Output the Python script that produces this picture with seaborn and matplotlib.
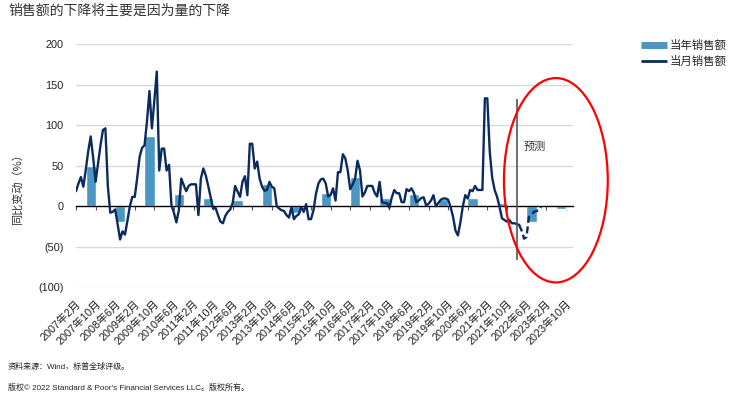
import numpy as np
import pandas as pd
import matplotlib
matplotlib.use("Agg")
import matplotlib.pyplot as plt
import seaborn as sns
from matplotlib.patches import Ellipse
from matplotlib.lines import Line2D
from matplotlib.ticker import FuncFormatter

# ---------------- data ----------------
# monthly YoY change (%), index 0 = 2007年2月
monthly_actual = [
    18.5, 28, 36, 24, 45, 68, 86, 60, 30, 52, 75, 94, 96, 25, -8, -7, -4, -22, -41, -31,
    -35, -18, 0, 11.5, 11.5, 35, 61, 72, 75, 105, 142, 96, 130, 166, 44, 71, 71, 44, 51, 1,
    -8, -20, -5, 34, 26, 18.5, 25, 27, 27, 27, -11, 34, 46.5, 38, 25, 11, -3, -2, -11, -19,
    -21, -12, -7, -4, 4, 25, 18, 11.5, 30, 37, 13.6, 77, 77, 46.5, 55, 34, 24, 19, 20, 30,
    24, 22, 0, -3, -5, -6, -11, -14, -1, -16, -12, -10, -1, -7, 2.5, -16, -16, -5, 15, 28,
    33, 34, 28, 12, 14, 22, 7, 42, 42, 64, 59, 44, 21, 27, 34, 56, 44, 12, 17, 25,
    25, 25, 16.5, 12, 30, 5, 4, 4, -2, 11, 20, 16, 16, 5, 5, 21, 18.5, 22, 16.5, 5,
    7, 10, 11, 1, 3, 7, 13.6, 0, 4, 8, 9.5, 9.5, 8, -1, -13, -30, -36, -20, 0, 13.6,
    9.5, 20, 18.5, 25, 20, 20, 20, 133, 133, 67, 35, 20, 11.5, -1, -15, -17, -19, -17,
    -21, -21, -22, -23,
]
forecast_start = len(monthly_actual) - 1
monthly_forecast = [-23, -30, -40, -38, -13, -11, -7, -6, -5, -1]

years = list(range(2007, 2024))
annual = [49, -19, 87, 15, 10, 8, 27, -8, 16, 36, 10, 15, 9, 10, 4, -20, -3]

tick_labels = [
    "2007年2月", "2007年10月", "2008年6月", "2009年2月", "2009年10月", "2010年6月",
    "2011年2月", "2011年10月", "2012年6月", "2013年2月", "2013年10月", "2014年6月",
    "2015年2月", "2015年10月", "2016年6月", "2017年2月", "2017年10月", "2018年6月",
    "2019年2月", "2019年10月", "2020年6月", "2021年2月", "2021年10月", "2022年6月",
    "2023年2月", "2023年10月",
]
forecast_divider = 180

# ---------------- style ----------------
sns.set_style("white")
plt.rcParams["font.family"] = ["Liberation Sans", "Noto Sans CJK SC", "DejaVu Sans"]

bar_color = "#4b97c3"
line_color = "#0b2a5e"
grid_color = "#d9d9d9"

df_actual = pd.DataFrame({"m": np.arange(len(monthly_actual)), "v": monthly_actual})
df_fc = pd.DataFrame({"m": np.arange(forecast_start, forecast_start + len(monthly_forecast)),
                      "v": monthly_forecast})
df_bar = pd.DataFrame({"m": [(y - 2007) * 12 + 6 for y in years], "v": annual})

fig = plt.figure(figsize=(7.4, 3.98), dpi=100)
ax = fig.add_axes([76 / 740, 1 - 287.3 / 398, (573 - 76) / 740, (287.3 - 44) / 398])

# grid
for v in [200, 150, 100, 50, -50, -100]:
    ax.axhline(v, color=grid_color, lw=1.0, zorder=0)

ax.bar(df_bar["m"], df_bar["v"], width=4.2, color=bar_color, zorder=2)
sns.lineplot(data=df_actual, x="m", y="v", ax=ax, color=line_color, lw=1.7, zorder=3)
sns.lineplot(data=df_fc, x="m", y="v", ax=ax, color=line_color, lw=1.7, zorder=3,
             linestyle=(0, (3, 1.5)))

ax.set_xlim(0, 203)
ax.set_ylim(-100, 200)
ax.set_xlabel("")
ax.set_ylabel("")

for s in ["top", "right", "left"]:
    ax.spines[s].set_visible(False)
ax.spines["bottom"].set_position(("data", 0))
ax.spines["bottom"].set_color("black")
ax.spines["bottom"].set_linewidth(1.0)
ax.set_xticks(np.arange(0, 201, 8))
ax.tick_params(axis="x", which="both", direction="out", length=3, width=0.8,
               color="#555555", labelbottom=False, bottom=True)
ax.tick_params(axis="y", length=0, labelsize=7.8, labelcolor="#222222", pad=9)
ax.set_yticks([-100, -50, 0, 50, 100, 150, 200])
ax.yaxis.set_major_formatter(FuncFormatter(lambda v, p: f"({abs(int(v))})" if v < 0 else f"{int(v)}"))

sec = ax.secondary_xaxis("bottom")
sec.set_xticks(np.arange(0, 201, 8))
sec.set_xticklabels(tick_labels, rotation=45, ha="right", rotation_mode="anchor",
                    fontsize=7.8, color="#222222")
sec.tick_params(length=0, pad=8)
sec.spines["bottom"].set_visible(False)

# forecast divider and label
ax.vlines(forecast_divider, -66, 132, color="#555555", lw=1.2, zorder=4)
ax.text(forecast_divider + 3, 73, "预测", fontsize=8, color="#333333",
        family=["Noto Sans CJK SC"], va="center", ha="left")

# red ellipse
ax.add_patch(Ellipse((196, 32), 42.4, 252, fill=False, edgecolor="#ff0000", lw=1.6,
                     clip_on=False, zorder=5))

# y label
fig.text(17 / 740, 1 - 187 / 398, "同比变动（%）", rotation=90, ha="center", va="center",
         fontsize=8, color="#333333", family=["Noto Sans CJK SC"])

# title
fig.text(8 / 740, 1 - 11 / 398, "销售额的下降将主要是因为量的下降", ha="left", va="center",
         fontsize=10, color="#333333", family=["Noto Sans CJK SC"])

# legend
handles = [Line2D([0], [0], color=bar_color, lw=5, solid_capstyle="butt"),
           Line2D([0], [0], color=line_color, lw=2, solid_capstyle="butt")]
fig.legend(handles, ["当年销售额", "当月销售额"], loc="upper left",
           bbox_to_anchor=(641 / 740, 1 - 40 / 398), frameon=False, handlelength=2.3,
           handletextpad=0.2, labelspacing=0.4, borderpad=0, borderaxespad=0,
           prop={"family": ["Noto Sans CJK SC"], "size": 8.2})

# footer
fig.text(8 / 740, 1 - 367 / 398, "资料来源：Wind，标普全球评级。", ha="left", va="center",
         fontsize=5.8, color="#222222")
fig.text(8 / 740, 1 - 388 / 398, "版权© 2022 Standard & Poor's Financial Services LLC。版权所有。",
         ha="left", va="center", fontsize=5.8, color="#222222")

fig.savefig("out.png", dpi=100)
